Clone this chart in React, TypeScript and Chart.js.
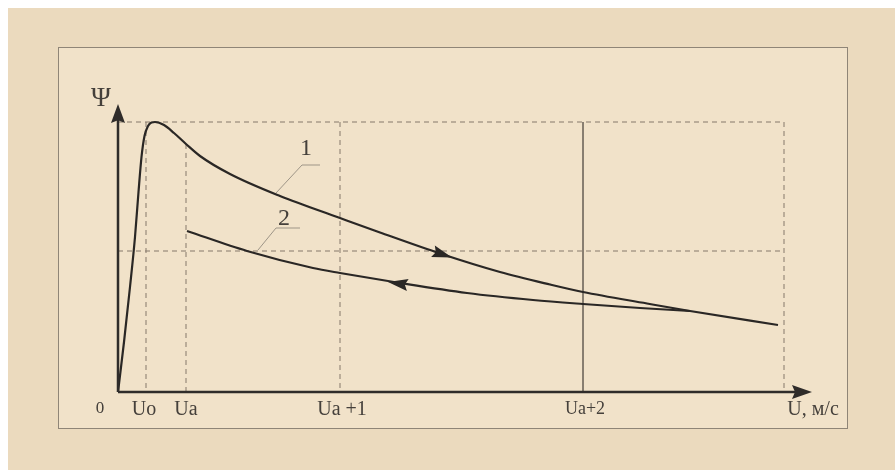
import React, { useEffect, useRef } from 'react';
import { Chart, registerables } from 'chart.js';

Chart.register(...registerables);

// Curve 1 (ascending branch + falling branch), arbitrary units
const CURVE1_X = [0, 0.6, 1.2, 1.7, 2.05, 2.35, 2.65, 3.0, 3.35, 3.7, 4.6, 5.6, 6.8, 8.2, 11.2, 16.2, 22.2, 26.2, 32.2, 38.2, 43.2, 46.5, 52.9, 57.2, 66.0];
const CURVE1_Y = [0, 5.0, 10.5, 15.5, 20.0, 23.5, 25.6, 26.6, 26.95, 27.0, 26.7, 25.9, 24.8, 23.6, 21.8, 19.6, 17.4, 15.95, 13.85, 12.0, 10.75, 10.0, 8.85, 8.1, 6.7];

// Curve 2 (return branch)
const CURVE2_X = [6.9, 12.9, 19.5, 22.2, 28.2, 34.9, 41.5, 46.5, 52.2, 57.2];
const CURVE2_Y = [16.1, 14.1, 12.4, 11.9, 10.9, 9.9, 9.2, 8.8, 8.4, 8.1];

// Reference levels / positions
const PSI_MAX = 27.0;
const PSI_MID = 14.1;
const X_UO = 2.8;
const X_UA = 6.8;
const X_UA1 = 22.2;
const X_UA2 = 46.5;
const X_END = 66.6;
const UA_TOP = 24.8;
const X_AXIS_END = 69.4;
const Y_AXIS_END = 28.8;

// Tick labels
const X_TICK_VALUES = [-1.8, 2.6, 6.8, 22.4, 46.7, 69.5];
const X_TICK_LABELS = ['0', 'Uo', 'Ua', 'Ua +1', 'Ua+2', 'U, м/с'];
const X_TICK_SIZES = [17, 20, 20, 20, 18, 20];

// Leader lines for curve labels
const LEADER1_X = [20.2, 18.4, 15.8];
const LEADER1_Y = [22.7, 22.7, 19.9];
const LEADER2_X = [18.2, 15.8, 14.0];
const LEADER2_Y = [16.4, 16.4, 14.2];
const LABEL1 = { text: '1', x: 18.8, y: 24.3 };
const LABEL2 = { text: '2', x: 16.6, y: 17.3 };
const PSI_LABEL = { text: 'Ψ', x: -1.7, y: 29.3 };

// Direction arrows on the curves: tip and tail point
const ARROW1 = { tipX: 33.4, tipY: 13.45, tailX: 31.4, tailY: 14.1 };
const ARROW2 = { tipX: 27.0, tipY: 11.0, tailX: 29.0, tailY: 10.7 };

const OUTER_BG = '#ebdabe';
const INNER_BG = '#f1e2c9';
const BORDER = '#8f8577';
const CURVE = '#2a2725';
const DASH = '#85796b';
const LEADER = '#9e9587';
const TEXT = '#45403b';
const FONT = '"Liberation Serif", "Times New Roman", serif';

const pts = (xs: number[], ys: number[]) => xs.map((x, i) => ({ x, y: ys[i] }));

export default function App() {
  const ref = useRef<HTMLCanvasElement>(null);

  useEffect(() => {
    if (!ref.current) return;
    const base = { showLine: true, pointRadius: 0, fill: false, clip: false as any, tension: 0 };

    const datasets: any[] = [
      { ...base, data: pts(CURVE1_X, CURVE1_Y), borderColor: CURVE, borderWidth: 2.2, cubicInterpolationMode: 'monotone' },
      { ...base, data: pts(CURVE2_X, CURVE2_Y), borderColor: CURVE, borderWidth: 2.2, cubicInterpolationMode: 'monotone' },
      { ...base, data: pts(LEADER1_X, LEADER1_Y), borderColor: LEADER, borderWidth: 1 },
      { ...base, data: pts(LEADER2_X, LEADER2_Y), borderColor: LEADER, borderWidth: 1 },
      { ...base, data: [{ x: 0, y: PSI_MAX }, { x: X_END, y: PSI_MAX }, { x: X_END, y: 0 }], borderColor: DASH, borderWidth: 1, borderDash: [5, 4] },
      { ...base, data: [{ x: 0, y: PSI_MID }, { x: X_END, y: PSI_MID }], borderColor: DASH, borderWidth: 1, borderDash: [5, 4] },
      { ...base, data: [{ x: X_UO, y: PSI_MAX }, { x: X_UO, y: 0 }], borderColor: DASH, borderWidth: 1, borderDash: [5, 4] },
      { ...base, data: [{ x: X_UA, y: UA_TOP }, { x: X_UA, y: 0 }], borderColor: DASH, borderWidth: 1, borderDash: [5, 4] },
      { ...base, data: [{ x: X_UA1, y: PSI_MAX }, { x: X_UA1, y: 0 }], borderColor: DASH, borderWidth: 1, borderDash: [5, 4] },
      { ...base, data: [{ x: X_UA2, y: PSI_MAX }, { x: X_UA2, y: 0 }], borderColor: '#7a7064', borderWidth: 1 },
    ];

    const drawArrow = (ctx: CanvasRenderingContext2D, tx: number, ty: number, bx: number, by: number, len: number, hw: number) => {
      const dx = tx - bx, dy = ty - by;
      const d = Math.hypot(dx, dy) || 1;
      const ux = dx / d, uy = dy / d;
      const nx = -uy, ny = ux;
      const baseX = tx - ux * len, baseY = ty - uy * len;
      ctx.beginPath();
      ctx.moveTo(tx, ty);
      ctx.lineTo(baseX + nx * hw, baseY + ny * hw);
      ctx.lineTo(baseX + ux * len * 0.15, baseY + uy * len * 0.15);
      ctx.lineTo(baseX - nx * hw, baseY - ny * hw);
      ctx.closePath();
      ctx.fill();
    };

    const deco = {
      id: 'deco',
      beforeDraw(chart: any) {
        const { ctx, width, height } = chart;
        ctx.save();
        ctx.fillStyle = OUTER_BG;
        ctx.fillRect(0, 0, width, height);
        ctx.fillStyle = INNER_BG;
        ctx.fillRect(50.5, 39.5, 789, 381);
        ctx.strokeStyle = BORDER;
        ctx.lineWidth = 1;
        ctx.strokeRect(50.5, 39.5, 789, 381);
        ctx.restore();
      },
      afterDatasetsDraw(chart: any) {
        const { ctx } = chart;
        const xs = chart.scales.x, ys = chart.scales.y;
        const px = (v: number) => xs.getPixelForValue(v);
        const py = (v: number) => ys.getPixelForValue(v);
        ctx.save();
        ctx.strokeStyle = '#2f2c2a';
        ctx.fillStyle = '#2f2c2a';
        ctx.lineWidth = 2.5;
        const ox = px(0), oy = py(0);
        const yTip = py(Y_AXIS_END), xTip = px(X_AXIS_END);
        ctx.beginPath();
        ctx.moveTo(ox, oy);
        ctx.lineTo(ox, yTip + 14);
        ctx.moveTo(ox, oy);
        ctx.lineTo(xTip - 14, oy);
        ctx.stroke();
        drawArrow(ctx, ox, yTip, ox, oy, 19, 7);
        drawArrow(ctx, xTip, oy, ox, oy, 20, 7);
        ctx.fillStyle = CURVE;
        drawArrow(ctx, px(ARROW1.tipX), py(ARROW1.tipY), px(ARROW1.tailX), py(ARROW1.tailY), 20, 6);
        drawArrow(ctx, px(ARROW2.tipX), py(ARROW2.tipY), px(ARROW2.tailX), py(ARROW2.tailY), 20, 6);

        ctx.fillStyle = TEXT;
        ctx.textAlign = 'center';
        ctx.textBaseline = 'middle';
        ctx.font = `24px ${FONT}`;
        ctx.fillText(LABEL1.text, px(LABEL1.x), py(LABEL1.y));
        ctx.fillText(LABEL2.text, px(LABEL2.x), py(LABEL2.y));
        ctx.font = `27px ${FONT}`;
        ctx.fillText(PSI_LABEL.text, px(PSI_LABEL.x), py(PSI_LABEL.y));
        ctx.restore();
      },
    };

    const chart = new Chart(ref.current, {
      type: 'scatter',
      data: { datasets },
      options: {
        animation: false,
        responsive: false,
        events: [],
        layout: { padding: { left: 80, right: 17, top: 84, bottom: 0 } },
        plugins: { legend: { display: false }, tooltip: { enabled: false } },
        scales: {
          x: {
            type: 'linear',
            position: 'bottom',
            min: -3,
            max: 76,
            grid: { display: false, drawTicks: false },
            border: { display: false },
            afterBuildTicks: (axis: any) => {
              axis.ticks = X_TICK_VALUES.map((v) => ({ value: v }));
            },
            afterFit: (axis: any) => {
              axis.height = 78;
            },
            ticks: {
              autoSkip: false,
              maxRotation: 0,
              minRotation: 0,
              padding: 6,
              color: TEXT,
              font: (c: any) => ({ family: FONT, size: X_TICK_SIZES[c.index] ?? 20 }),
              callback: (_v: any, i: number) => X_TICK_LABELS[i],
            },
          },
          y: { type: 'linear', display: false, min: 0, max: 30 },
        },
      } as any,
      plugins: [deco],
    });
    return () => chart.destroy();
  }, []);

  return (
    <div style={{ position: 'fixed', left: 8, top: 8, width: 887, height: 462, background: OUTER_BG }}>
      <canvas ref={ref} width={887} height={462} style={{ display: 'block', width: 887, height: 462 }} />
    </div>
  );
}
